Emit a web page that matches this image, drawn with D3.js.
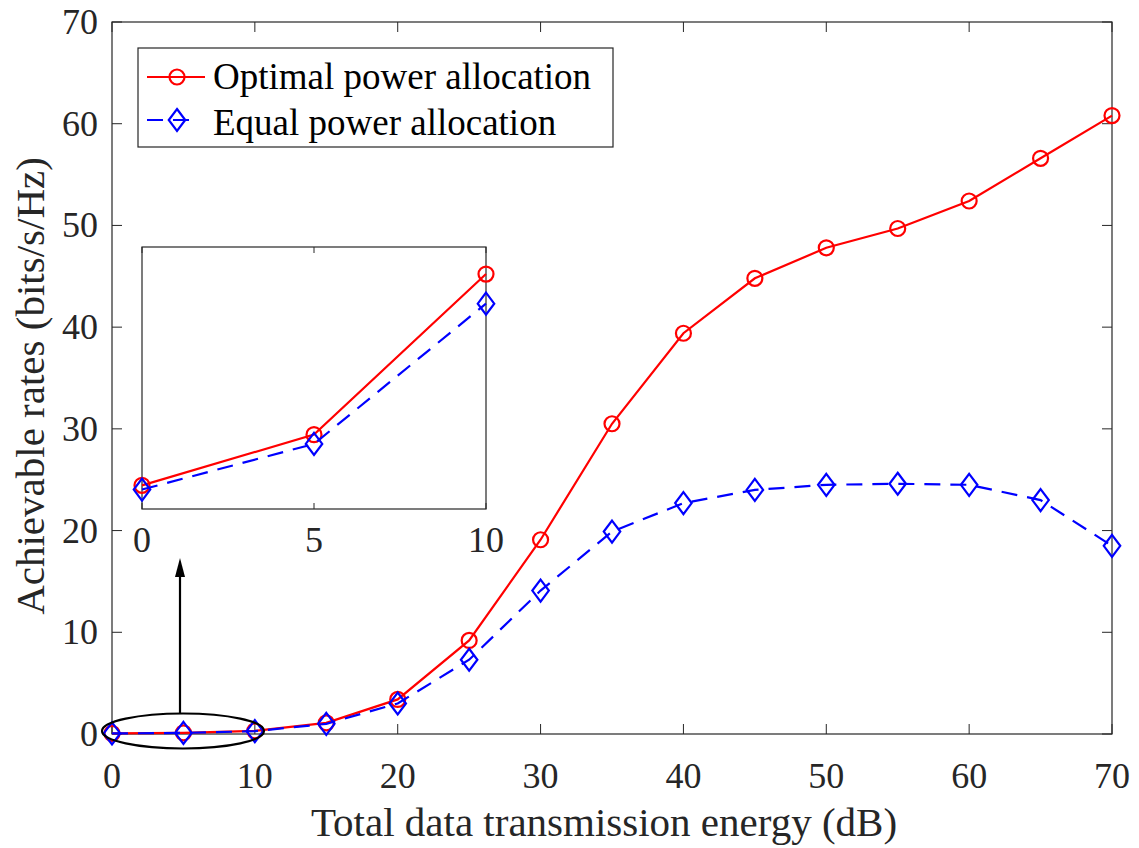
<!DOCTYPE html>
<html><head><meta charset="utf-8">
<script src="https://cdn.jsdelivr.net/npm/d3@7"></script>
<style>body{margin:0;background:#fff}svg{display:block}text{font-family:"Liberation Serif","Times New Roman",serif}</style>
</head><body>
<script>
const xValues = [0,5,10,15,20,25,30,35,40,45,50,55,60,65,70];
const optimal = [0.06,0.12,0.31,1.1,3.4,9.2,19.1,30.5,39.4,44.8,47.8,49.7,52.4,56.6,60.8];
const equal   = [0.055,0.109,0.275,1.0,3.0,7.3,14.1,19.9,22.7,24.0,24.5,24.6,24.5,23.0,18.5];
const xTicks = [0,10,20,30,40,50,60,70];
const yTicks = [0,10,20,30,40,50,60,70];
const insetX = [0,5,10];
const insetTicks = [0,5,10];
const seriesNames = ["Optimal power allocation","Equal power allocation"];
const xLabel = "Total data transmission energy (dB)";
const yLabel = "Achievable rates (bits/s/Hz)";

const W=1139,H=848;
const svg=d3.select("body").append("svg").attr("width",W).attr("height",H);
const axC="#262626";
const x=d3.scaleLinear().domain([0,70]).range([112,1112]);
const y=d3.scaleLinear().domain([0,70]).range([734,22]);

// frame
svg.append("rect").attr("x",112).attr("y",22).attr("width",1000).attr("height",712)
  .attr("fill","none").attr("stroke",axC).attr("stroke-width",1.2);
const g=svg.append("g");
xTicks.forEach(t=>{
  g.append("line").attr("x1",x(t)).attr("x2",x(t)).attr("y1",734).attr("y2",724).attr("stroke",axC);
  g.append("line").attr("x1",x(t)).attr("x2",x(t)).attr("y1",22).attr("y2",32).attr("stroke",axC);
  g.append("text").attr("x",x(t)).attr("y",788).attr("text-anchor","middle").attr("font-size",36).attr("fill",axC).text(t);
});
yTicks.forEach(t=>{
  g.append("line").attr("x1",112).attr("x2",122).attr("y1",y(t)).attr("y2",y(t)).attr("stroke",axC);
  g.append("line").attr("x1",1112).attr("x2",1102).attr("y1",y(t)).attr("y2",y(t)).attr("stroke",axC);
  g.append("text").attr("x",98).attr("y",y(t)+12).attr("text-anchor","end").attr("font-size",36).attr("fill",axC).text(t);
});
svg.append("text").attr("x",604).attr("y",836).attr("text-anchor","middle").attr("font-size",41).attr("fill",axC).text(xLabel);
svg.append("text").attr("transform","translate(44,386) rotate(-90)").attr("text-anchor","middle").attr("font-size",41).attr("fill",axC).text(yLabel);

function diamond(sel,cx,cy,r){
  sel.append("path").attr("d",`M${cx},${cy-r}L${cx+r*0.75},${cy}L${cx},${cy+r}L${cx-r*0.75},${cy}Z`)
   .attr("fill","none").attr("stroke","#0000ff").attr("stroke-width",2.2);
}
function drawSeries(sel,xs,ys,xv,data,color,dash,marker,mr){
  const line=d3.line().x((d,i)=>xs(xv[i])).y(d=>ys(d));
  sel.append("path").datum(data).attr("d",line).attr("fill","none").attr("stroke",color)
    .attr("stroke-width",2.2).attr("stroke-dasharray",dash);
  data.forEach((d,i)=>{
    if(marker==="o") sel.append("circle").attr("cx",xs(xv[i])).attr("cy",ys(d)).attr("r",mr)
      .attr("fill","none").attr("stroke",color).attr("stroke-width",2.2);
    else diamond(sel,xs(xv[i]),ys(d),mr);
  });
}
drawSeries(svg,x,y,xValues,optimal,"#ff0000",null,"o",7.5);
drawSeries(svg,x,y,xValues,equal,"#0000ff","16,10","d",11);

// ellipse + arrow
svg.append("ellipse").attr("cx",183).attr("cy",731).attr("rx",81).attr("ry",17.5)
  .attr("fill","none").attr("stroke","#000").attr("stroke-width",2.2);
svg.append("line").attr("x1",180).attr("x2",180).attr("y1",713).attr("y2",574).attr("stroke","#000").attr("stroke-width",2.2);
svg.append("path").attr("d","M180,558L175,577L185,577Z").attr("fill","#000");

// inset
const ix=d3.scaleLinear().domain([0,10]).range([142,486]);
const iy=d3.scaleLinear().domain([0.032,0.342]).range([509,247]);
const ins=svg.append("g");
ins.append("rect").attr("x",142).attr("y",247).attr("width",344).attr("height",262).attr("fill","#fff").attr("stroke",axC).attr("stroke-width",1.2);
insetTicks.forEach(t=>{
  ins.append("line").attr("x1",ix(t)).attr("x2",ix(t)).attr("y1",509).attr("y2",503).attr("stroke",axC);
  ins.append("line").attr("x1",ix(t)).attr("x2",ix(t)).attr("y1",247).attr("y2",253).attr("stroke",axC);
  ins.append("text").attr("x",ix(t)).attr("y",552).attr("text-anchor","middle").attr("font-size",36).attr("fill",axC).text(t);
});
drawSeries(ins,ix,iy,insetX,optimal.slice(0,3),"#ff0000",null,"o",7.5);
drawSeries(ins,ix,iy,insetX,equal.slice(0,3),"#0000ff","16,10","d",11);

// legend
const lg=svg.append("g");
lg.append("rect").attr("x",138).attr("y",48).attr("width",475).attr("height",99).attr("fill","#fff").attr("stroke",axC).attr("stroke-width",1.2);
lg.append("line").attr("x1",147).attr("x2",205).attr("y1",77).attr("y2",77).attr("stroke","#ff0000").attr("stroke-width",2.2);
lg.append("circle").attr("cx",177).attr("cy",77).attr("r",7.5).attr("fill","none").attr("stroke","#ff0000").attr("stroke-width",2.2);
lg.append("line").attr("x1",147).attr("x2",198).attr("y1",120).attr("y2",120).attr("stroke","#0000ff").attr("stroke-width",2.2).attr("stroke-dasharray","16,10");
diamond(lg,177,120,11);
lg.append("text").attr("x",213).attr("y",89).attr("font-size",37).attr("fill","#000").text(seriesNames[0]);
lg.append("text").attr("x",213).attr("y",135).attr("font-size",37).attr("fill","#000").text(seriesNames[1]);
</script>
</body></html>
